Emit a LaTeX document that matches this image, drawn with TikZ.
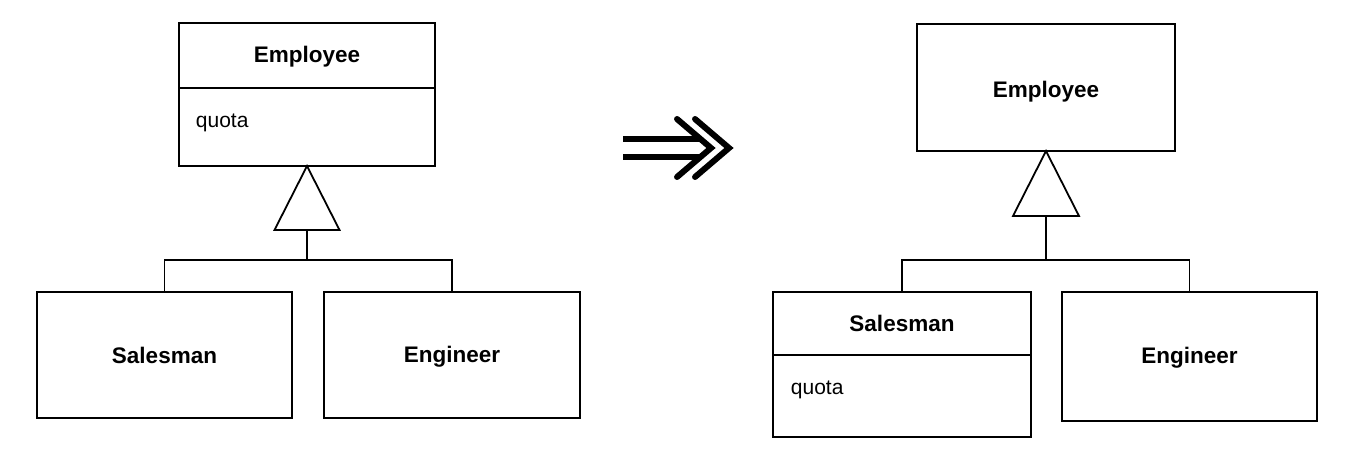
\documentclass[tikz,border=0pt]{standalone}
\usepackage{fontspec}
\setmainfont{Liberation Sans}
\begin{document}
\begin{tikzpicture}[x=1pt,y=-1pt,
  line width=1.8pt, line join=miter,
  box/.style={draw, rectangle, inner sep=0pt, outer sep=0pt, minimum width=#1},
  title/.style={inner sep=0pt, anchor=base, font=\fontsize{22.5}{24}\selectfont\bfseries},
  attr/.style={inner sep=0pt, anchor=base west, font=\fontsize{21}{23}\selectfont},
  arr/.style={line width=6pt, line cap=round, line join=miter}]
\useasboundingbox (0,0) rectangle (1364,452);
% ---------- left diagram ----------
\node[box=256pt, minimum height=143pt] (emp1) at (307,94.5) {};
\draw (emp1.west |- 0,88) -- (emp1.east |- 0,88);
\node[title] (emp1t) at (307,63) {Employee};
\node[attr] (emp1a) at (195,127) {quota};
\node[box=255pt, minimum height=126pt] (sal1) at (164.5,355) {};
\node[title] (sal1t) at (164.5,363) {Salesman};
\node[box=256pt, minimum height=126pt] (eng1) at (452,355) {};
\node[title] (eng1t) at (452,362) {Engineer};
\coordinate (tb1) at (307,230);
\coordinate (j1) at (307,260);
\draw (emp1.south) -- (tb1 -| 274.5,0) -- (tb1 -| 339.5,0) -- cycle;
\draw (tb1) -- (j1);
\draw (sal1.north) |- (j1) -| (eng1.north);
% ---------- arrow ----------
\coordinate (a1) at (623,139);
\coordinate (a2) at (623,157);
\coordinate (c1) at (711,148);
\coordinate (c2) at (729,148);
\draw[arr, line cap=butt] (a1) -- (700,139);
\draw[arr, line cap=butt] (a2) -- (700,157);
\draw[arr] (677,119) -- (c1) -- (677,177);
\draw[arr] (695,119) -- (c2) -- (695,177);
% ---------- right diagram ----------
\node[box=258pt, minimum height=127pt] (emp2) at (1046,87.5) {};
\node[title] (emp2t) at (1046,97) {Employee};
\node[box=258pt, minimum height=145pt] (sal2) at (902,364.5) {};
\draw (sal2.west |- 0,355) -- (sal2.east |- 0,355);
\node[title] (sal2t) at (902,331) {Salesman};
\node[attr] (sal2a) at (790,394) {quota};
\node[box=255pt, minimum height=129pt] (eng2) at (1189.5,356.5) {};
\node[title] (eng2t) at (1189.5,363) {Engineer};
\coordinate (tb2) at (1046,216);
\coordinate (j2) at (1046,260);
\draw (emp2.south) -- (tb2 -| 1013,0) -- (tb2 -| 1079,0) -- cycle;
\draw (tb2) -- (j2);
\draw (sal2.north) |- (j2) -| (eng2.north);
\end{tikzpicture}
\end{document}
